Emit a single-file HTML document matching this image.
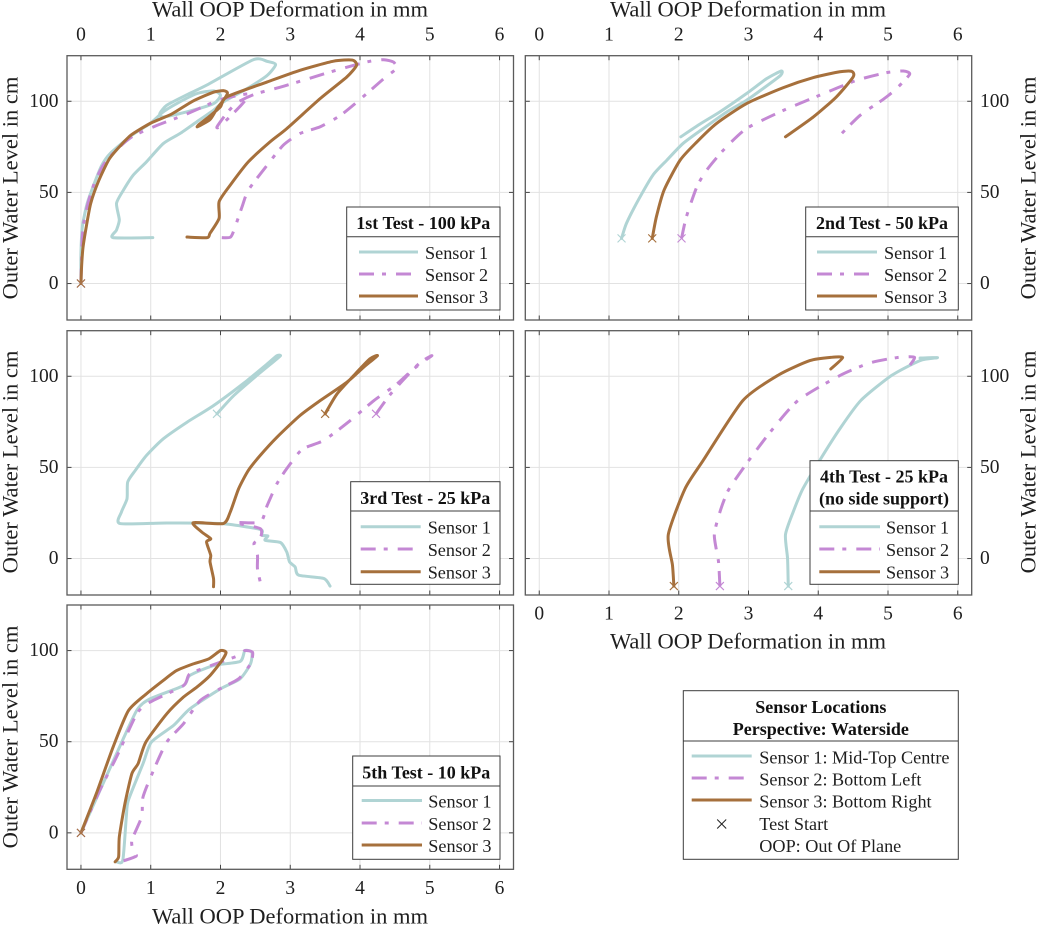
<!DOCTYPE html>
<html lang="en">
<head>
<meta charset="utf-8">
<title>Wall OOP Deformation vs Outer Water Level</title>
<style>
html,body{margin:0;padding:0;background:#fff;}
svg{display:block;font-family:"Liberation Serif","Times New Roman",serif;fill:#1f1f1f;}
.title{font-size:22.5px;text-anchor:middle;dominant-baseline:central;}
.tick{font-size:19.5px;dominant-baseline:central;}
.lg{font-size:18.2px;dominant-baseline:central;}
.lgh{font-size:18px;font-weight:bold;text-anchor:middle;dominant-baseline:central;fill:#111;}
.box{fill:#fff;stroke:#3c3c3c;stroke-width:1;}
.s1{stroke:#b0d4d4;stroke-width:3;fill:none;}
.s2{stroke:#c488d4;stroke-width:3;fill:none;stroke-dasharray:15 8 4 10;}
.s3{stroke:#a6703c;stroke-width:3;fill:none;}
</style>
</head>
<body>
<svg id="figure" width="1038" height="925" viewBox="0 0 1038 925" xmlns="http://www.w3.org/2000/svg">
<rect width="1038" height="925" fill="#fff" stroke="none"/>
<g id="charts"></g>

<!-- Axis titles -->
<text class="title" x="290" y="9">Wall OOP Deformation in mm</text>
<text class="title" x="748" y="9">Wall OOP Deformation in mm</text>
<text class="title" x="748" y="641">Wall OOP Deformation in mm</text>
<text class="title" x="290" y="916">Wall OOP Deformation in mm</text>
<text class="title" transform="translate(10,188) rotate(-90)">Outer Water Level in cm</text>
<text class="title" transform="translate(10,462) rotate(-90)">Outer Water Level in cm</text>
<text class="title" transform="translate(10,737) rotate(-90)">Outer Water Level in cm</text>
<text class="title" transform="translate(1028,188) rotate(-90)">Outer Water Level in cm</text>
<text class="title" transform="translate(1028,462) rotate(-90)">Outer Water Level in cm</text>

<!-- Panel 1 legend -->
<g>
<rect class="box" x="346.7" y="207" width="153.3" height="103"/>
<line x1="346.7" x2="500" y1="236.7" y2="236.7" stroke="#3c3c3c"/>
<text class="lgh" x="423.3" y="223">1st Test - 100 kPa</text>
<line class="s1" x1="359" x2="418" y1="252" y2="252"/><text class="lg" x="425" y="253">Sensor 1</text>
<line class="s2" x1="359" x2="418" y1="274" y2="274"/><text class="lg" x="425" y="275">Sensor 2</text>
<line class="s3" x1="359" x2="418" y1="296" y2="296"/><text class="lg" x="425" y="297">Sensor 3</text>
</g>

<!-- Panel 2 legend -->
<g>
<rect class="box" x="805.7" y="207" width="152.6" height="103"/>
<line x1="805.7" x2="958.3" y1="236.7" y2="236.7" stroke="#3c3c3c"/>
<text class="lgh" x="882" y="223">2nd Test - 50 kPa</text>
<line class="s1" x1="817" x2="877" y1="252" y2="252"/><text class="lg" x="884" y="253">Sensor 1</text>
<line class="s2" x1="817" x2="877" y1="274" y2="274"/><text class="lg" x="884" y="275">Sensor 2</text>
<line class="s3" x1="817" x2="877" y1="296" y2="296"/><text class="lg" x="884" y="297">Sensor 3</text>
</g>

<!-- Panel 3 legend -->
<g>
<rect class="box" x="350.7" y="481.7" width="149.3" height="102.6"/>
<line x1="350.7" x2="500" y1="511" y2="511" stroke="#3c3c3c"/>
<text class="lgh" x="425.3" y="498">3rd Test - 25 kPa</text>
<line class="s1" x1="360.7" x2="420.7" y1="526.7" y2="526.7"/><text class="lg" x="427.7" y="527.7">Sensor 1</text>
<line class="s2" x1="360.7" x2="420.7" y1="549" y2="549"/><text class="lg" x="427.7" y="550">Sensor 2</text>
<line class="s3" x1="360.7" x2="420.7" y1="571.7" y2="571.7"/><text class="lg" x="427.7" y="572.7">Sensor 3</text>
</g>

<!-- Panel 4 legend -->
<g>
<rect class="box" x="810" y="460.7" width="148.3" height="123.6"/>
<line x1="810" x2="958.3" y1="511" y2="511" stroke="#3c3c3c"/>
<text class="lgh" x="884" y="476.7">4th Test - 25 kPa</text>
<text class="lgh" x="884" y="498.3">(no side support)</text>
<line class="s1" x1="819.3" x2="880" y1="526.7" y2="526.7"/><text class="lg" x="886" y="527.7">Sensor 1</text>
<line class="s2" x1="819.3" x2="880" y1="549" y2="549"/><text class="lg" x="886" y="550">Sensor 2</text>
<line class="s3" x1="819.3" x2="880" y1="571.7" y2="571.7"/><text class="lg" x="886" y="572.7">Sensor 3</text>
</g>

<!-- Panel 5 legend -->
<g>
<rect class="box" x="352.7" y="756" width="147.3" height="103.3"/>
<line x1="352.7" x2="500" y1="786" y2="786" stroke="#3c3c3c"/>
<text class="lgh" x="426.3" y="772.7">5th Test - 10 kPa</text>
<line class="s1" x1="361.7" x2="422" y1="800.5" y2="800.5"/><text class="lg" x="428.3" y="801.5">Sensor 1</text>
<line class="s2" x1="361.7" x2="422" y1="823" y2="823"/><text class="lg" x="428.3" y="824">Sensor 2</text>
<line class="s3" x1="361.7" x2="422" y1="845" y2="845"/><text class="lg" x="428.3" y="846">Sensor 3</text>
</g>

<!-- Master legend -->
<g>
<rect class="box" x="683.3" y="690.7" width="275" height="168.6"/>
<line x1="683.3" x2="958.3" y1="741" y2="741" stroke="#3c3c3c"/>
<text class="lgh" x="820.8" y="707">Sensor Locations</text>
<text class="lgh" x="820.8" y="729">Perspective: Waterside</text>
<line class="s1" x1="691.7" x2="751.7" y1="756" y2="756"/><text class="lg" x="759.3" y="757.5">Sensor 1: Mid-Top Centre</text>
<line class="s2" x1="691.7" x2="751.7" y1="778" y2="778"/><text class="lg" x="759.3" y="779.5">Sensor 2: Bottom Left</text>
<line class="s3" x1="691.7" x2="751.7" y1="800" y2="800"/><text class="lg" x="759.3" y="801.5">Sensor 3: Bottom Right</text>
<path d="M717.2 819.5L726.2 828.5M726.2 819.5L717.2 828.5" stroke="#222" stroke-width="1" fill="none"/>
<text class="lg" x="759.3" y="824">Test Start</text>
<text class="lg" x="759.3" y="846">OOP: Out Of Plane</text>
</g>
</svg>

<script>
// Tick labels
const xTickValues = [0, 1, 2, 3, 4, 5, 6];
const yTickValues = [0, 50, 100];

// Test 1 - 100 kPa: [deformation mm, water level cm]
const test1Sensor1 = [[0,0],[0,16.6],[0.02,31.2],[0.09,44],[0.2,55.8],[0.3,65],[0.42,71.4],[0.73,81.4],[0.99,87.8],[1.18,94.2],[1.37,98.7],[1.66,104.2],[1.9,105.7],[2.0,103.3],[1.9,98.7],[1.52,94.2],[1.18,91.4],[1.13,93.2],[1.23,97.8],[1.52,103.6],[1.8,108.8],[2.47,122.8],[2.67,121.9],[2.79,120.1],[2.67,114.2],[2.38,106.9],[2.04,99.6],[1.9,95.1],[1.66,88.7],[1.42,82.3],[1.18,76.8],[0.94,66.8],[0.75,59.5],[0.61,51.3],[0.51,44],[0.55,34.9],[0.51,29.4],[0.46,25.2],[1.03,25.2]];
const test1Sensor2 = [[0,0],[0.01,16.6],[0.03,31],[0.1,44],[0.2,56],[0.33,65.5],[0.5,73],[0.73,80.5],[1.06,86.3],[1.47,92.3],[1.8,97.8],[2.0,101],[2.4,104],[2.3,98],[2.0,86.5],[1.95,86],[2.1,94],[2.25,99.5],[2.5,104],[2.9,108.2],[3.62,116.6],[3.91,119.7],[4.15,122],[4.34,122.8],[4.48,121.5],[4.52,117.9],[4.34,112.4],[4.0,101],[3.72,92.3],[3.43,86],[3.14,82.3],[2.9,75.9],[2.67,65],[2.4,51.3],[2.31,42.2],[2.21,31.2],[2.14,25.4],[1.95,25.4]];
const test1Sensor3 = [[0,0],[0.01,10],[0.03,20],[0.08,32],[0.14,44],[0.25,56],[0.4,68],[0.55,75],[0.72,81.5],[1.0,88],[1.3,93],[1.6,100],[1.9,105],[2.05,105.8],[2.1,104.5],[2.05,101],[1.95,96],[1.85,90],[1.67,86],[1.7,87.5],[1.85,92],[2.0,97],[2.09,102.4],[2.67,110.6],[3.14,117],[3.62,122],[3.89,122.6],[3.95,119.7],[3.81,113.3],[3.43,101.5],[2.95,85],[2.71,77.7],[2.4,66.8],[2.14,54],[1.98,44.9],[1.98,35.8],[1.85,27.6],[1.81,25.2],[1.52,25.5]];

// Test 2 - 50 kPa
const test2Sensor1 = [[1.18,24.8],[1.25,33],[1.42,45.8],[1.63,59.5],[1.83,67.7],[2.06,76.8],[2.35,85],[2.69,94.2],[2.97,100.5],[3.21,107],[3.46,114.2],[3.47,116.6],[3.26,112.4],[2.97,104.2],[2.59,94.2],[2.3,87.4],[2.03,80.5]];
const test2Sensor2 = [[2.04,24.8],[2.11,36.7],[2.26,53.1],[2.4,62.2],[2.64,73.2],[2.97,85],[3.5,95],[4.02,103.3],[4.55,111.5],[4.98,115.7],[5.22,116.6],[5.31,114.8],[5.12,106.9],[4.93,101],[4.6,92.3],[4.29,80.5]];
const test2Sensor3 = [[1.62,24.8],[1.68,36.7],[1.79,51.3],[2.02,67.7],[2.26,77.7],[2.54,87.8],[2.97,98.7],[3.5,107.5],[3.93,113],[4.31,116.2],[4.48,116.4],[4.5,113.3],[4.26,102.4],[3.93,91.4],[3.53,80.5]];

// Test 3 - 25 kPa
const test3Sensor1 = [[1.95,79.4],[2.19,89.4],[2.52,100.4],[2.78,108.6],[2.86,111.3],[2.81,111.3],[2.67,106.8],[2.38,97.6],[1.9,83.9],[1.52,74.8],[1.18,65.7],[0.94,56.6],[0.78,48.4],[0.67,42],[0.66,32.8],[0.58,25.5],[0.56,19.2],[1.23,19.5],[2.0,19.2],[2.57,16],[2.59,12.8],[2.68,12.4],[2.64,10],[2.86,8.8],[2.95,3.6],[2.99,-1.8],[3.07,-4.6],[3.12,-9.1],[3.48,-10.9],[3.57,-15.1]];
const test3Sensor2 = [[4.23,79.4],[4.44,90.3],[4.77,104],[5.03,111.3],[4.87,107.7],[4.53,95.8],[4.2,86.7],[3.86,75.7],[3.48,64.8],[3.17,59.9],[2.95,49.3],[2.81,41.1],[2.67,29.2],[2.57,20],[2.22,19.7],[2.57,16.4],[2.57,11],[2.48,8.2],[2.53,1.8],[2.53,-5.5],[2.58,-14.6]];
const test3Sensor3 = [[3.5,79.4],[3.67,90.3],[3.91,100.4],[4.14,109.5],[4.25,111.3],[4.05,104.9],[3.81,96.7],[3.43,86.7],[3.14,78.5],[2.81,66.6],[2.57,56.6],[2.4,48.4],[2.26,38.3],[2.14,25.5],[2.04,19.2],[1.61,19.7],[1.73,14.6],[1.86,10.9],[1.8,9.1],[1.86,1.8],[1.85,-1.8],[1.9,-10.9],[1.9,-15.5]];

// Test 4 - 25 kPa (no side support)
const test4Sensor1 = [[3.57,-15.1],[3.56,0],[3.53,13.1],[3.64,25.5],[3.78,38.3],[4.02,53.8],[4.31,71.2],[4.61,86.7],[5.05,100.4],[5.46,108.6],[5.71,110.2],[5.46,110]];
const test4Sensor2 = [[2.59,-15.1],[2.57,-1.8],[2.51,12.8],[2.59,25.5],[2.71,37.4],[2.97,52],[3.31,69.3],[3.71,86.7],[4.31,100.4],[4.74,107.3],[5.12,110.2],[5.38,110.4],[5.27,104]];
const test4Sensor3 = [[1.93,-15.1],[1.91,-3.6],[1.85,13.1],[2.09,38.3],[2.35,53.8],[2.92,86.7],[3.43,100.7],[3.88,108.6],[4.19,110.4],[4.35,110.2],[4.18,104]];

// Test 5 - 10 kPa
const test5Sensor1 = [[0,0],[0.22,18.8],[0.51,43.4],[0.8,67.2],[0.99,73.5],[1.47,80.8],[1.56,86.3],[1.9,91.8],[2.28,94],[2.35,100],[2.45,99],[2.43,92.7],[2.28,84.5],[2.0,79],[1.56,68],[1.33,59],[1.01,49.8],[0.89,38],[0.68,17.9],[0.65,8.8],[0.6,-15],[0.51,-15.9]];
const test5Sensor2 = [[0,0],[0.27,23.4],[0.51,41.6],[0.8,65.3],[0.99,71.7],[1.47,80.8],[1.56,87.2],[1.9,92.3],[2.26,97.3],[2.35,100],[2.46,99],[2.43,92.7],[2.26,84.5],[2.02,79.6],[1.71,72.6],[1.47,59.9],[1.23,49.8],[1.04,34.3],[0.89,19.7],[0.87,8.8],[0.73,-4],[0.75,-9.9],[0.79,-12.8],[0.56,-16]];
const test5Sensor3 = [[0,0],[0.22,21.5],[0.46,47],[0.68,67],[0.94,76.3],[1.18,83.6],[1.37,89],[1.61,92.7],[1.83,95.4],[2.0,100],[2.08,99],[2.02,94.5],[1.85,86.3],[1.66,79.9],[1.47,74.5],[1.23,65.3],[0.93,49.8],[0.82,38],[0.73,32.5],[0.63,16],[0.55,-2.2],[0.54,-13.1],[0.49,-15.9]];

const NS = 'http://www.w3.org/2000/svg';
const root = document.getElementById('charts');
const X_MIN = -0.2, X_MAX = 6.2, Y_MIN = -20, Y_MAX = 125;

const panels = [
  {id:1, left:67,    right:513.5, top:55.7,  bottom:320,   series:[test1Sensor1,test1Sensor2,test1Sensor3], xLabels:'top',    yLabels:'left'},
  {id:2, left:525.3, right:971.7, top:55.7,  bottom:320,   series:[test2Sensor1,test2Sensor2,test2Sensor3], xLabels:'top',    yLabels:'right'},
  {id:3, left:67,    right:513.5, top:330.7, bottom:595,   series:[test3Sensor1,test3Sensor2,test3Sensor3], xLabels:'none',   yLabels:'left'},
  {id:4, left:525.3, right:971.7, top:330.7, bottom:595,   series:[test4Sensor1,test4Sensor2,test4Sensor3], xLabels:'bottom', yLabels:'right'},
  {id:5, left:67,    right:513.5, top:605,   bottom:869.3, series:[test5Sensor1,test5Sensor2,test5Sensor3], xLabels:'bottom', yLabels:'left'}
];
const seriesClass = ['s1','s2','s3'];
const seriesColor = ['#b0d4d4','#c488d4','#a6703c'];

function make(parent, tag, attrs) {
  const e = document.createElementNS(NS, tag);
  for (const k in attrs) e.setAttribute(k, attrs[k]);
  parent.appendChild(e);
  return e;
}

// Gently rounded path through the screen points (low-tension Catmull-Rom)
function smoothPath(pts) {
  let d = 'M' + pts[0][0].toFixed(2) + ' ' + pts[0][1].toFixed(2);
  const k = 1 / 9;
  for (let i = 0; i < pts.length - 1; i++) {
    const p0 = pts[Math.max(i - 1, 0)], p1 = pts[i], p2 = pts[i + 1], p3 = pts[Math.min(i + 2, pts.length - 1)];
    const c1x = p1[0] + (p2[0] - p0[0]) * k, c1y = p1[1] + (p2[1] - p0[1]) * k;
    const c2x = p2[0] - (p3[0] - p1[0]) * k, c2y = p2[1] - (p3[1] - p1[1]) * k;
    d += 'C' + c1x.toFixed(2) + ' ' + c1y.toFixed(2) + ' ' + c2x.toFixed(2) + ' ' + c2y.toFixed(2) + ' ' + p2[0].toFixed(2) + ' ' + p2[1].toFixed(2);
  }
  return d;
}

panels.forEach(function (p) {
  const sx = function (v) { return p.left + (v - X_MIN) / (X_MAX - X_MIN) * (p.right - p.left); };
  const sy = function (v) { return p.bottom - (v - Y_MIN) / (Y_MAX - Y_MIN) * (p.bottom - p.top); };

  const g = make(root, 'g', {});
  
  

  const grid = make(g, 'g', {stroke:'#e2e2e2', 'stroke-width':1});
  
  
  const ticks = make(g, 'g', {stroke:'#444', 'stroke-width':1});
  
  

  xTickValues.forEach(function (v) {
    const x = sx(v);
    make(grid, 'line', {x1:x, x2:x, y1:p.top, y2:p.bottom});
    make(ticks, 'line', {x1:x, x2:x, y1:p.top, y2:p.top + 4.5});
    make(ticks, 'line', {x1:x, x2:x, y1:p.bottom, y2:p.bottom - 4.5});
    if (p.xLabels !== 'none') {
      const t = make(g, 'text', {x:x, y:p.xLabels === 'top' ? 35 : p.bottom + 19, 'text-anchor':'middle', class:'tick'});
      
      
      t.textContent = String(v);
    }
  });

  yTickValues.forEach(function (v) {
    const y = sy(v);
    make(grid, 'line', {x1:p.left, x2:p.right, y1:y, y2:y});
    make(ticks, 'line', {x1:p.left, x2:p.left + 4.5, y1:y, y2:y});
    make(ticks, 'line', {x1:p.right, x2:p.right - 4.5, y1:y, y2:y});
    const left = p.yLabels === 'left';
    const t = make(g, 'text', {x:left ? 58.5 : 980, y:y, 'text-anchor':left ? 'end' : 'start', class:'tick'});
    
    
    t.textContent = String(v);
  });

  p.series.forEach(function (pts, i) {
    const screen = pts.map(function (d) { return [sx(d[0]), sy(d[1])]; });
    const line = make(g, 'path', {
      class: seriesClass[i],
      'stroke-linejoin': 'round',
      'stroke-linecap': i === 1 ? 'butt' : 'round',
      d: smoothPath(screen)
    });
    
    
  });

  p.series.forEach(function (pts, i) {
    const mx = sx(pts[0][0]), my = sy(pts[0][1]);
    const mark = make(g, 'path', {
      d: 'M' + (mx - 4) + ' ' + (my - 4) + 'L' + (mx + 4) + ' ' + (my + 4) + 'M' + (mx + 4) + ' ' + (my - 4) + 'L' + (mx - 4) + ' ' + (my + 4),
      stroke: seriesColor[i], 'stroke-width': 1.1, fill: 'none'
    });
    
    
  });

  const frame = make(g, 'rect', {x:p.left, y:p.top, width:p.right - p.left, height:p.bottom - p.top, fill:'none', stroke:'#5a5a5a', 'stroke-width':1.3});
  
  
});
</script>
</body>
</html>
